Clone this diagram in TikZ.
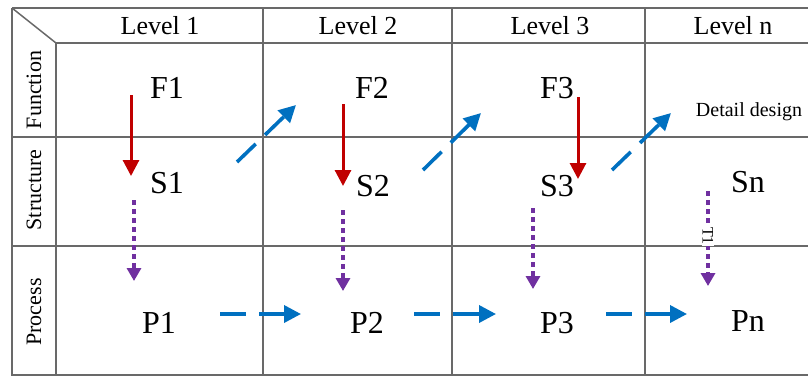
\documentclass[tikz,border=0pt]{standalone}
\usepackage{fontspec}
\setmainfont{Liberation Serif}
\usetikzlibrary{arrows.meta}
\definecolor{gridc}{RGB}{105,105,105}
\definecolor{redc}{RGB}{192,0,0}
\definecolor{bluec}{RGB}{0,112,192}
\definecolor{purc}{RGB}{112,48,160}
\tikzset{
  gridline/.style={draw=gridc,line width=1.5pt},
  hdr/.style={font=\fontsize{26}{28}\selectfont,inner sep=0pt},
  rowlab/.style={font=\fontsize{22}{24}\selectfont,rotate=90,inner sep=0pt},
  big/.style={font=\fontsize{32}{34}\selectfont,inner sep=0pt},
  redarrow/.style={draw=redc,line width=3pt,-{Triangle[length=16pt,width=16pt]}},
  purarrow/.style={draw=purc,line width=3.2pt,dash pattern=on 5pt off 4pt,-{Triangle[length=13pt,width=14pt]}},
  bluearrow/.style={draw=bluec,line width=3.6pt,dash pattern=on 26pt off 13pt,-{Triangle[length=17pt,width=17pt]}},
}
\begin{document}
\begin{tikzpicture}[x=1pt,y=-1pt]
\useasboundingbox (0,0) rectangle (808,376);
% grid
\draw[gridline] (12,8) -- (808,8);
\draw[gridline] (12,8) -- (12,376);
\draw[gridline] (12,375) -- (808,375);
\draw[gridline] (12,8) -- (56,43);
\draw[gridline] (56,43) -- (808,43);
\draw[gridline] (56,43) -- (56,376);
\draw[gridline] (12,137) -- (808,137);
\draw[gridline] (12,246) -- (808,246);
\draw[gridline] (263,8) -- (263,376);
\draw[gridline] (452,8) -- (452,376);
\draw[gridline] (645,8) -- (645,376);
% headers
\node[hdr] (L1) at (160,26) {Level 1};
\node[hdr] (L2) at (358,26) {Level 2};
\node[hdr] (L3) at (550,26) {Level 3};
\node[hdr] (Ln) at (733,26) {Level n};
% row labels
\node[rowlab] (RF) at (34,90) {Function};
\node[rowlab] (RS) at (34,190) {Structure};
\node[rowlab] (RP) at (34,312) {Process};
% cell texts
\node[big] (F1) at (167,88) {F1};
\node[big] (S1) at (167,183) {S1};
\node[big] (P1) at (159,323) {P1};
\node[big] (F2) at (372,88) {F2};
\node[big] (S2) at (373,186) {S2};
\node[big] (P2) at (367,323) {P2};
\node[big] (F3) at (557,88) {F3};
\node[big] (S3) at (557,186) {S3};
\node[big] (P3) at (557,323) {P3};
\node[font=\fontsize{20}{22}\selectfont,inner sep=0pt] (Dd) at (749,112) {Detail design};
\node[big] (Sn) at (748,182) {Sn};
\node[big] (Pn) at (748,321) {Pn};
% arrow end points
\coordinate (r1a) at (131,95);  \coordinate (r1b) at (131,176);
\coordinate (r2a) at (343,104); \coordinate (r2b) at (343,186);
\coordinate (r3a) at (578,97);  \coordinate (r3b) at (578,179);
\coordinate (p1a) at (134,200); \coordinate (p1b) at (134,281);
\coordinate (p2a) at (343,210); \coordinate (p2b) at (343,291);
\coordinate (p3a) at (533,208); \coordinate (p3b) at (533,289);
\coordinate (pna) at (708,191); \coordinate (pnb) at (708,286);
\coordinate (d1a) at (237,162); \coordinate (d1b) at (296,105);
\coordinate (d2a) at (423,170); \coordinate (d2b) at (481,113);
\coordinate (d3a) at (612,170); \coordinate (d3b) at (671,113);
\coordinate (h1a) at (220,314); \coordinate (h1b) at (301,314);
\coordinate (h2a) at (414,314); \coordinate (h2b) at (496,314);
\coordinate (h3a) at (606,314); \coordinate (h3b) at (687,314);
% arrows
\draw[redarrow] (r1a) -- (r1b);
\draw[redarrow] (r2a) -- (r2b);
\draw[redarrow] (r3a) -- (r3b);
\draw[purarrow] (p1a) -- (p1b);
\draw[purarrow] (p2a) -- (p2b);
\draw[purarrow] (p3a) -- (p3b);
\draw[purarrow] (pna) -- (pnb);
\draw[bluearrow] (d1a) -- (d1b);
\draw[bluearrow] (d2a) -- (d2b);
\draw[bluearrow] (d3a) -- (d3b);
\draw[bluearrow] (h1a) -- (h1b);
\draw[bluearrow] (h2a) -- (h2b);
\draw[bluearrow] (h3a) -- (h3b);
% label on Sn->Pn
\node[fill=white,rotate=-90,inner sep=1pt,font=\fontsize{16}{17}\selectfont,anchor=east] (T1) at (708,246) {T1};
\end{tikzpicture}
\end{document}
